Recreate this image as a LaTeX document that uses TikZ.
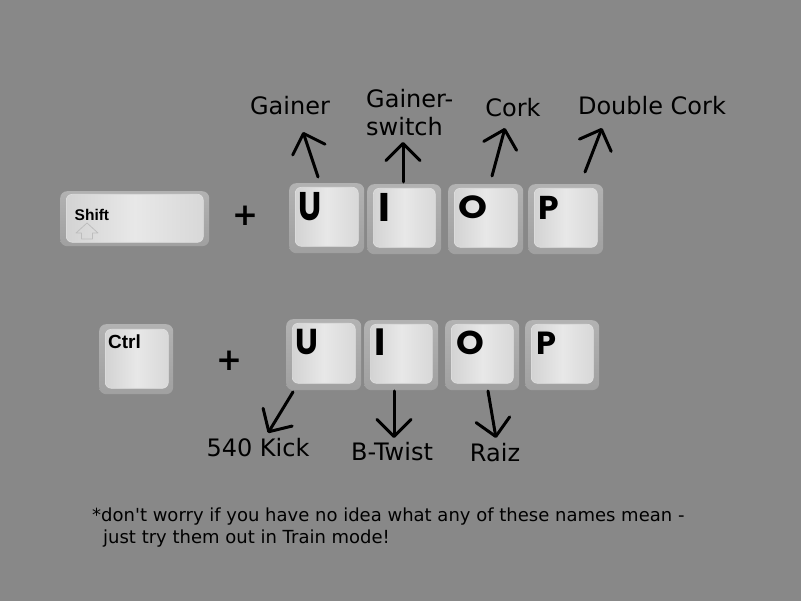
\documentclass[tikz,border=0pt]{standalone}
\usepackage{fontspec}
\usepackage{graphicx}
\setmainfont{DejaVu Sans}
\newfontfamily\keylabfont{Liberation Sans}
\newfontfamily\keyletfont{Poppins}
\usetikzlibrary{arrows.meta}
\definecolor{bgc}{HTML}{888888}
\definecolor{keytop}{HTML}{B2B2B2}
\definecolor{keybot}{HTML}{A0A0A0}
\definecolor{faceside}{HTML}{D3D3D3}
\definecolor{facemid}{HTML}{E8E8E8}
\definecolor{faceright}{HTML}{D8D8D8}
\newcommand\keylet[3]{\scalebox{#2}[1]{\fontsize{#1}{#1}\selectfont #3}}
\begin{document}
\begin{tikzpicture}[x=1pt,y=-1pt,
  keyout/.style={rounded corners=7pt, top color=keytop, bottom color=keybot, draw=none, inner sep=0, anchor=north west},
  keyface/.style={rounded corners=6pt, left color=faceside, right color=faceright, middle color=facemid, draw=white!88!black, line width=0.6pt, inner sep=0, anchor=north west},
  keyletter/.style={font=\keyletfont\bfseries, inner sep=0, anchor=base, text=black},
  modtext/.style={font=\keylabfont\bfseries, inner sep=0, anchor=base west, text=black},
  plussign/.style={font=\bfseries\fontsize{31}{31}\selectfont, inner sep=0, anchor=base},
  lbl/.style={font=\fontsize{24}{28}\selectfont, inner sep=0, text=black},
  note/.style={font=\fontsize{18}{22}\selectfont, inner sep=0, text=black, align=left, anchor=north west},
  arr/.style={line width=3pt, line cap=round, line join=round, -{Straight Barb[length=17pt,width=34pt,line cap=round,line join=round]}}
]
\fill[bgc] (0,0) rectangle (801,601);
\useasboundingbox (0,0) rectangle (801,601);

% ---- Shift key
\node[keyout, minimum width=149, minimum height=55] (shift) at (60,191) {};
\node[keyface, minimum width=137, minimum height=48] (shiftf) at (66,194) {};
\node[modtext, font=\keylabfont\bfseries\fontsize{15.5}{15.5}\selectfont] (shiftt) at (74.5,221) {Shift};
\draw[draw=white!74!black, line width=0.8pt, line join=round]
  (87,223) -- (98,233) -- (92.5,233) -- (92.5,239) -- (81.5,239) -- (81.5,233) -- (76,233) -- cycle;

\node[plussign] (plus1) at (245,226) {+};

% ---- top row keys
\node[keyout, minimum width=75, minimum height=70] (tu) at (289,183) {};
\node[keyface, minimum width=63, minimum height=59] (tuf) at (295,187) {};
\node[keyletter] (tul) at (310,221) {\keylet{40}{0.82}{U}};

\node[keyout, minimum width=74, minimum height=70] (ti) at (367,184) {};
\node[keyface, minimum width=62, minimum height=59] (tif) at (373,188) {};
\node[keyletter] (til) at (384.5,222) {\keylet{40}{1}{I}};

\node[keyout, minimum width=75, minimum height=70] (to) at (448,184) {};
\node[keyface, minimum width=63, minimum height=59] (tof) at (454,188) {};
\node[keyletter] (tol) at (473,219) {\keylet{32}{1.15}{O}};

\node[keyout, minimum width=75, minimum height=70] (tp) at (528,184) {};
\node[keyface, minimum width=63, minimum height=59] (tpf) at (534,188) {};
\node[keyletter] (tpl) at (549,220) {\keylet{33}{1}{P}};

% ---- Ctrl key
\node[keyout, minimum width=74, minimum height=70] (ctrl) at (99,324) {};
\node[keyface, minimum width=63, minimum height=59] (ctrlf) at (105,329) {};
\node[modtext, font=\keylabfont\bfseries\fontsize{19}{19}\selectfont] (ctrlt) at (108,349) {Ctrl};

\node[plussign] (plus2) at (229,371) {+};

% ---- bottom row keys
\node[keyout, minimum width=75, minimum height=71] (bu) at (286,319) {};
\node[keyface, minimum width=63, minimum height=60] (buf) at (292,323) {};
\node[keyletter] (bul) at (307,355) {\keylet{36}{0.9}{U}};

\node[keyout, minimum width=74, minimum height=70] (bi) at (364,320) {};
\node[keyface, minimum width=62, minimum height=59] (bif) at (370,324) {};
\node[keyletter] (bil) at (380.5,356) {\keylet{38}{1}{I}};

\node[keyout, minimum width=74, minimum height=70] (bo) at (445,320) {};
\node[keyface, minimum width=62, minimum height=59] (bof) at (451,324) {};
\node[keyletter] (bol) at (470,355) {\keylet{33}{1.07}{O}};

\node[keyout, minimum width=74, minimum height=70] (bp) at (525,320) {};
\node[keyface, minimum width=62, minimum height=59] (bpf) at (531,324) {};
\node[keyletter] (bpl) at (546,355) {\keylet{32}{1}{P}};

% ---- top labels
\node[lbl, anchor=base] (gainer) at (290,115) {Gainer};
\node[lbl, align=left, anchor=north west] (gswitch) at (366,88.8) {Gainer-\\switch};
\node[lbl, anchor=base] (cork) at (513,117) {Cork};
\node[lbl, anchor=base] (dcork) at (652,115) {Double Cork};

% ---- bottom labels
\node[lbl, anchor=base] (kick) at (258,457) {540 Kick};
\node[lbl, anchor=base] (btwist) at (392,461) {B-Twist};
\node[lbl, anchor=base] (raiz) at (495,462) {Raiz};

% ---- arrow ends
\coordinate (a1s) at (318,177); \coordinate (a1e) at (303,132);
\coordinate (a2s) at (403,182); \coordinate (a2e) at (403,142);
\coordinate (a3s) at (492,176); \coordinate (a3e) at (505,128);
\coordinate (a4s) at (585,172); \coordinate (a4e) at (602,128);
\coordinate (b1s) at (293,392); \coordinate (b1e) at (268,433);
\coordinate (b2s) at (394,391); \coordinate (b2e) at (394,438);
\coordinate (b3s) at (488,391); \coordinate (b3e) at (496,438);

\draw[arr] (a1s) -- (a1e);
\draw[arr] (a2s) -- (a2e);
\draw[arr] (a3s) -- (a3e);
\draw[arr] (a4s) -- (a4e);
\draw[arr] (b1s) -- (b1e);
\draw[arr] (b2s) -- (b2e);
\draw[arr] (b3s) -- (b3e);

% ---- footnote
\node[note] (foot) at (92,507.3) {*don\textquotesingle t worry if you have no idea what any of these names mean -\\\hspace*{11pt}just try them out in Train mode!};
\end{tikzpicture}
\end{document}
